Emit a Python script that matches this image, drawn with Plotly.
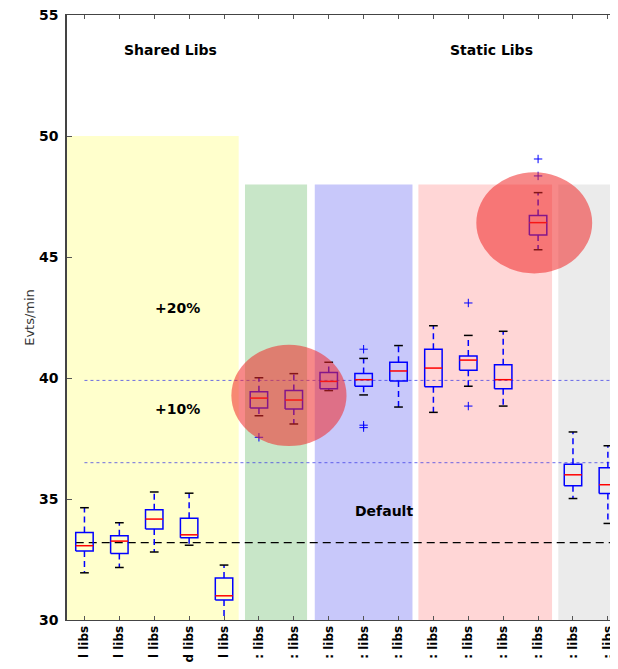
import plotly.graph_objects as go

# ---- data ----
positions = list(range(1, 17))
labels = ["l libs", "l libs", "l libs", "d libs", "l libs",
          ": libs", ": libs", ": libs", ": libs", ": libs", ": libs", ": libs",
          ": libs", ": libs", ": libs", ": libs"]
upper = [34.64, 34.02, 35.29, 35.24, 32.27, 40.01, 40.18, 40.65, 40.81, 41.34, 42.16, 41.76, 41.93, 47.66, 37.77, 37.20]
q3 =    [33.62, 33.48, 34.56, 34.20, 31.74, 39.43, 39.48, 40.23, 40.19, 40.65, 41.19, 40.91, 40.55, 46.72, 36.44, 36.29]
median = [33.07, 33.26, 34.17, 33.52, 31.00, 39.17, 39.09, 39.86, 39.93, 40.29, 40.41, 40.74, 39.93, 46.42, 36.00, 35.59]
q1 =    [32.85, 32.75, 33.76, 33.40, 30.83, 38.76, 38.72, 39.56, 39.66, 39.88, 39.64, 40.32, 39.56, 45.91, 35.55, 35.23]
lower = [31.95, 32.17, 32.81, 33.09, 29.80, 38.44, 38.10, 39.48, 39.30, 38.80, 38.58, 39.66, 38.84, 45.30, 35.02, 33.99]
outlier_x = [6, 9, 9, 9, 12, 12, 14, 14]
outlier_y = [37.55, 41.19, 37.95, 38.05, 43.10, 38.84, 49.05, 48.35]

default_rate = 33.2
plus10 = 36.5
plus20 = 39.9

y_ticks = [30, 35, 40, 45, 50, 55]

# background groups: (x0, x1, ytop, color)
spans = [
    (0.5, 5.42, 50, "#FFFFCC"),
    (5.6, 7.38, 48, "#C8E6C8"),
    (7.6, 10.4, 48, "#C8C8FA"),
    (10.57, 14.4, 48, "#FFD6D6"),
    (14.58, 17.0, 48, "#EBEBEB"),
]
# highlight ellipses: (cx, cy, rx, ry)
ellipses = [(6.86, 39.28, 1.65, 2.09), (13.89, 46.41, 1.66, 2.09)]

# ---- build ----
hw = 0.25   # box half width
cw = 0.125  # cap half width

box_x, box_y = [], []
med_x, med_y = [], []
wh_x, wh_y = [], []
cap_x, cap_y = [], []
for p, a, b, c, d, e in zip(positions, upper, q3, median, q1, lower):
    box_x += [p - hw, p + hw, p + hw, p - hw, p - hw, None]
    box_y += [d, d, b, b, d, None]
    med_x += [p - hw, p + hw, None]
    med_y += [c, c, None]
    wh_x += [p, p, None, p, p, None]
    wh_y += [b, a, None, d, e, None]
    cap_x += [p - cw, p + cw, None, p - cw, p + cw, None]
    cap_y += [a, a, None, e, e, None]

fig = go.Figure()
fig.add_trace(go.Scatter(x=wh_x, y=wh_y, mode="lines",
                         line=dict(color="blue", width=1.5, dash="6px,4px"), hoverinfo="skip"))
fig.add_trace(go.Scatter(x=cap_x, y=cap_y, mode="lines",
                         line=dict(color="black", width=1.5), hoverinfo="skip"))
fig.add_trace(go.Scatter(x=box_x, y=box_y, mode="lines",
                         line=dict(color="blue", width=1.5), hoverinfo="skip"))
fig.add_trace(go.Scatter(x=med_x, y=med_y, mode="lines",
                         line=dict(color="red", width=1.5), hoverinfo="skip"))
fig.add_trace(go.Scatter(x=outlier_x, y=outlier_y, mode="markers",
                         marker=dict(symbol="cross-thin", size=6, line=dict(color="blue", width=1)),
                         hoverinfo="skip"))

shapes = []
for x0, x1, yt, col in spans:
    shapes.append(dict(type="rect", xref="x", yref="y", x0=x0, x1=x1, y0=30, y1=yt,
                       fillcolor=col, line=dict(width=0), layer="below"))
for yv in (plus20, plus10):
    shapes.append(dict(type="line", xref="x", yref="y", x0=1, x1=17, y0=yv, y1=yv,
                       line=dict(color="rgba(60,60,230,0.75)", width=1, dash="dot"), layer="below"))
shapes.append(dict(type="line", xref="x", yref="y", x0=0.75, x1=17, y0=default_rate, y1=default_rate,
                   line=dict(color="black", width=1.3, dash="8px,5px"), layer="below"))
for cx, cy, rx, ry in ellipses:
    shapes.append(dict(type="circle", xref="x", yref="y", x0=cx - rx, x1=cx + rx, y0=cy - ry, y1=cy + ry,
                       fillcolor="rgba(240,40,40,0.55)", line=dict(width=0), layer="above"))

font_b = dict(family="DejaVu Sans", size=14, color="black", weight="bold")
annotations = [
    dict(x=3.46, y=53.55, text="Shared Libs"),
    dict(x=12.66, y=53.55, text="Static Libs"),
    dict(x=3.66, y=42.89, text="+20%"),
    dict(x=3.66, y=38.72, text="+10%"),
    dict(x=9.57, y=34.5, text="Default"),
]
for a in annotations:
    a.update(xref="x", yref="y", showarrow=False, font=font_b)

fig.update_layout(
    width=610, height=661,
    margin=dict(l=59, r=0, t=7, b=49),
    paper_bgcolor="white", plot_bgcolor="white",
    showlegend=False,
    shapes=shapes, annotations=annotations,
    font=dict(family="DejaVu Sans"),
    xaxis=dict(range=[0.5, 16.29], tickmode="array", tickvals=positions, ticktext=labels,
               tickangle=-90, ticks="inside", ticklen=4, tickcolor="#555",
               showline=True, linecolor="#444", linewidth=1, mirror="ticks",
               showgrid=False, zeroline=False, automargin=False,
               tickfont=dict(family="DejaVu Sans", size=12, color="black", weight="bold")),
    yaxis=dict(range=[30, 55], tickmode="array", tickvals=y_ticks,
               ticks="inside", ticklen=5, tickcolor="#555",
               showline=True, linecolor="#444", linewidth=1.5,
               showgrid=False, zeroline=False, automargin=False,
               ticklabelstandoff=4, ticklabeloverflow="allow",
               title=dict(text="Evts/min", font=dict(family="DejaVu Sans", size=13, color="#333"), standoff=1),
               tickfont=dict(family="DejaVu Sans", size=14, color="black", weight="bold")),
)

fig.write_html("out.html")
